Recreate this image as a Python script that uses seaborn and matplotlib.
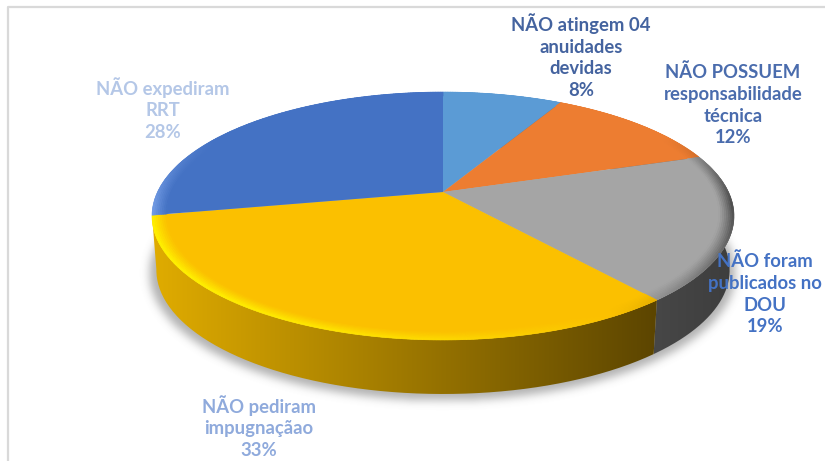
import numpy as np
import seaborn as sns
import matplotlib.pyplot as plt
from matplotlib.collections import PolyCollection
from matplotlib.colors import LinearSegmentedColormap, to_rgb
from matplotlib.patches import PathPatch
from matplotlib.path import Path
from matplotlib.transforms import Transform

# Slices, clockwise from 12 o'clock
labels = ['NÃO atingem 04\nanuidades\ndevidas', 'NÃO POSSUEM\nresponsabilidade\ntécnica',
          'NÃO foram\npublicados no\nDOU', 'NÃO pediram\nimpugnaçãao', 'NÃO expediram\nRRT']
values = [8, 12, 19, 33, 28]

# Office colours of the slices, their lit/dark rim and the side wall (left to right)
colors = ['#5B9BD5', '#ED7D31', '#A5A5A5', '#FBC000', '#4472C4']
rim_hi = ['#7DB3E3', '#F59A5A', '#C8C8C8', '#FFE800', '#6C96E0']
rim_lo = ['#3F78AD', '#A9571F', '#4C4C4C', '#9A7400', '#2F5597']
side_l = ['#3F78AD', '#A9571F', '#474747', '#E0AC00', '#3A66B0']
side_r = ['#3F78AD', '#A9571F', '#3D3D3D', '#5C4500', '#3A66B0']

text_colors = ['#44639F', '#4A6CAD', '#4472C4', '#8FAADC', '#B4C7E7']
text_pos = [(581, 56), (733, 105), (765, 294), (259, 427), (163, 109)]

W, H = 825, 461
CX, CY = 443, 192      # apex of the pie
A, B, C = 285.5, 119.35, 0.1935  # perspective of the tilted disc
DEPTH, SHRINK = 54, 0.985


class Tilt(Transform):
    # unit circle -> tilted disc in picture pixels
    input_dims = 2
    output_dims = 2

    def transform_non_affine(self, values):
        u, v = values[:, 0], values[:, 1]
        d = 1 + C * v
        return np.column_stack([CX + A * u / d, CY - B * v / d])


sns.set_theme(style='white')
plt.rcParams['font.family'] = ['Lato', 'DejaVu Sans']

fig, ax = plt.subplots(figsize=(W / 100, H / 100), dpi=100)
fig.subplots_adjust(0, 0, 1, 1)

tilt = Tilt()
wedges, _ = ax.pie(values, colors=colors, startangle=90, counterclock=False,
                   wedgeprops={'linewidth': 0, 'zorder': 5})
ax.set_aspect('auto')
for w in wedges:
    w.set_transform(tilt + ax.transData)


def rim(t):
    return tilt.transform(np.column_stack([np.cos(t), np.sin(t)]))


def lower(xy):
    return np.column_stack([CX + SHRINK * (xy[:, 0] - CX), xy[:, 1] + DEPTH])


# soft shadow under the pie
yy, xx = np.mgrid[0:H, 0:W]
shadow = (((xx - (CX - 1)) / 293) ** 2 + ((yy - 273) / 127) ** 2 <= 1).astype(float)
kernel = np.exp(-np.arange(-12, 13) ** 2 / (2 * 4.5 ** 2))
kernel /= kernel.sum()
shadow = np.apply_along_axis(np.convolve, 0, shadow, kernel, mode='same')
shadow = np.apply_along_axis(np.convolve, 1, shadow, kernel, mode='same')
rgba = np.zeros((H, W, 4))
rgba[..., :3] = 0.45
rgba[..., 3] = 0.55 * shadow
ax.imshow(rgba, extent=(0, W, H, 0), zorder=1, aspect='auto')

# side walls, the blue slice starts at the silhouette so its wall never shows
for i, w in enumerate(wedges):
    if i == 4:
        continue
    t = np.radians(np.linspace(w.theta1, w.theta2, 120))
    top = rim(t)
    poly = np.vstack([top, lower(top)[::-1]])
    cmap = LinearSegmentedColormap.from_list('side', [side_l[i], side_r[i]])
    x0, x1 = poly[:, 0].min(), poly[:, 0].max()
    y0, y1 = poly[:, 1].min(), poly[:, 1].max()
    grad = np.linspace(0, 1, 256).reshape(1, -1)
    im = ax.imshow(grad, cmap=cmap, extent=(x0, x1, y1, y0), aspect='auto', zorder=2 + i * 0.1)
    clip = PathPatch(Path(poly), transform=ax.transData, fc='none', ec='none')
    ax.add_patch(clip)
    im.set_clip_path(clip)

# bevel along the rim of the disc
radii = np.linspace(0.95, 1, 9)
for i, w in enumerate(wedges):
    t = np.radians(np.linspace(w.theta1, w.theta2, int(values[i] * 6) + 2))
    base, hi, lo = [np.array(to_rgb(c)) for c in (colors[i], rim_hi[i], rim_lo[i])]
    quads, cols = [], []
    for r0, r1 in zip(radii[:-1], radii[1:]):
        g = ((0.5 * (r0 + r1) - radii[0]) / (1 - radii[0])) ** 1.2
        for a0, a1 in zip(t[:-1], t[1:]):
            mid = 0.5 * (a0 + a1)
            strength = np.clip((0.5 - np.sin(mid)) / 0.6, 0, 1)
            light = np.cos(mid - np.radians(210)) * strength
            col = base + g * max(light, 0) * (hi - base) * 1.3 + g * max(-light, 0) * (lo - base) * 1.3
            cols.append(np.clip(col, 0, 1))
            corners = np.array([[r0 * np.cos(a0), r0 * np.sin(a0)], [r1 * np.cos(a0), r1 * np.sin(a0)],
                                [r1 * np.cos(a1), r1 * np.sin(a1)], [r0 * np.cos(a1), r0 * np.sin(a1)]])
            quads.append(tilt.transform(corners))
    ax.add_collection(PolyCollection(quads, facecolors=cols, edgecolors=cols, linewidths=0.4, zorder=6))

# data labels
for lab, v, c, (x, y) in zip(labels, values, text_colors, text_pos):
    ax.text(x, y, f'{lab}\n{v}%', color=c, fontsize=13.3, fontweight='bold', ha='center', va='center',
            linespacing=1.33, zorder=10)

# grey frame of the chart area, only top and left are inside the crop
ax.plot([W, 7.5, 7.5], [7.5, 7.5, H], color='#D9D9D9', lw=1.6, zorder=0)

ax.set_xlim(0, W)
ax.set_ylim(H, 0)
ax.axis('off')
fig.savefig('out.png', dpi=100)
